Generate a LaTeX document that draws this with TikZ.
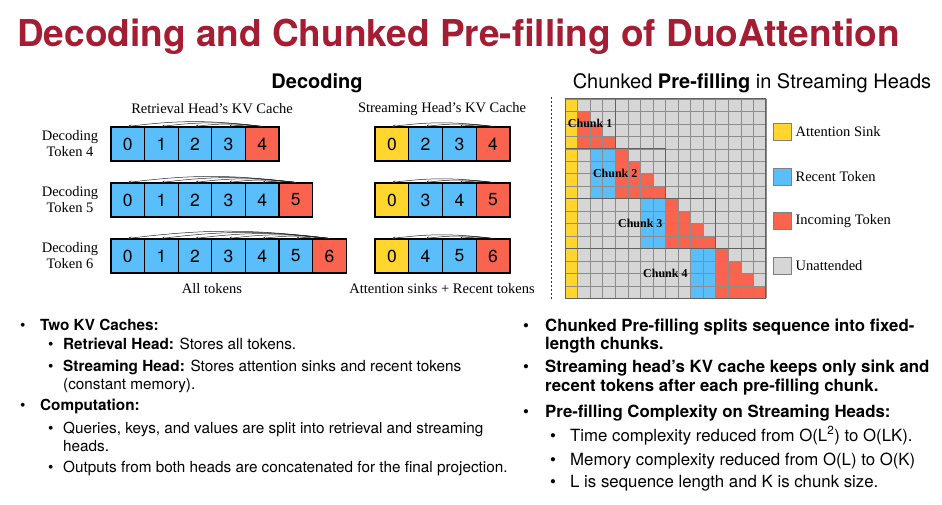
\documentclass[tikz,border=0pt]{standalone}
\usepackage{fontspec}
\setmainfont{Liberation Serif}
\setsansfont{TeX Gyre Heros}
\usetikzlibrary{arrows.meta,positioning}
\definecolor{duoRed}{RGB}{165,29,51}
\definecolor{sinkY}{RGB}{255,213,46}
\definecolor{recentB}{RGB}{90,190,250}
\definecolor{incomR}{RGB}{250,99,77}
\definecolor{unattG}{RGB}{214,214,214}
\tikzset{
  tok/.style      = {draw=black, line width=1.1pt, minimum width=33.6pt,
                    minimum height=34pt, inner sep=0pt,
                    font=\sffamily\fontsize{17.5}{17.5}\selectfont},
  stok/.style     = {tok, minimum width=33.75pt},
  kvarc/.style    = {black!85, line width=0.5pt,
                    -{Stealth[length=3.5pt,width=3pt]}, bend right=7},
  serlbl/.style   = {font=\fontsize{14.5}{16}\selectfont, inner sep=0pt,
                    align=center},
  head/.style     = {font=\sffamily\fontsize{20}{20}\selectfont, inner sep=0pt},
  chunklbl/.style = {font=\bfseries\fontsize{12}{12}\selectfont, inner sep=0pt},
  gridln/.style   = {draw=black!45, line width=0.4pt},
  chunkbox/.style = {draw=black!62, line width=1pt},
  sepln/.style    = {draw=black!80, line width=0.6pt, dash pattern=on 2pt off 2pt},
  legbox/.style   = {draw=black!50, line width=0.8pt, minimum width=18pt,
                    minimum height=17pt, inner sep=0pt},
  leglbl/.style   = {font=\fontsize{14.5}{16}\selectfont, inner sep=0pt},
  bulA/.style     = {font=\sffamily\fontsize{15.3}{15.3}\selectfont, inner sep=0pt,
                    anchor=base west},
  bulB/.style     = {font=\sffamily\bfseries\fontsize{16.8}{16.8}\selectfont,
                    inner sep=0pt, anchor=base west},
  bulC/.style     = {font=\sffamily\fontsize{16.8}{16.8}\selectfont, inner sep=0pt,
                    anchor=base west},
}

\begin{document}
\begin{tikzpicture}[x=1pt, y=-1pt]
  \useasboundingbox (0,0) rectangle (942,505);
  \node[anchor=west, inner sep=0pt, text=duoRed,
        font=\sffamily\bfseries\fontsize{37}{37}\selectfont]
    (title) at (17,37) {Decoding and Chunked Pre-filling of DuoAttention};
  \node[head] (hdDec) at (317,83) {\textbf{Decoding}};
  \node[head] (hdPre) at (752,83) {Chunked \textbf{Pre-filling} in Streaming Heads};

  % retrieval head keeps every token
  \node[serlbl] (retLbl) at (212,109) {Retrieval Head's KV Cache};
  \foreach \r/\y in {4/144,5/200,6/256} {
    \pgfmathtruncatemacro{\prev}{\r-1}
    \node[serlbl] (D\r) at (70,\y) {Decoding\\Token \r};
    \foreach \i in {0,...,\prev}
      \node[tok, fill=recentB] (R\r c\i) at ({127.8+33.6*\i},\y) {\i};
    \node[tok, fill=incomR] (R\r c\r) at ({127.8+33.6*\r},\y) {\r};
    \foreach \i in {0,...,\prev}
      \draw[kvarc] (R\r c\r.north) to (R\r c\i.north);
  }
  \node[serlbl] (allLbl) at (212,289) {All tokens};

  % streaming head keeps sink + recent tokens
  \node[serlbl] (strLbl) at (442,109) {Streaming Head's KV Cache};
  \foreach \r/\y/\a/\b in {4/144/2/3,5/200/3/4,6/256/4/5} {
    \node[stok, fill=sinkY]   (S\r c0) at (391.9,\y) {0};
    \node[stok, fill=recentB] (S\r c1) at (425.6,\y) {\a};
    \node[stok, fill=recentB] (S\r c2) at (459.4,\y) {\b};
    \node[stok, fill=incomR]  (S\r c3) at (493.1,\y) {\r};
    \foreach \i in {0,1,2}
      \draw[kvarc] (S\r c3.north) to (S\r c\i.north);
  }
  \node[serlbl] (sinkLbl) at (442,289) {Attention sinks + Recent tokens};

  \coordinate (sepTop) at (551,97);
  \coordinate (sepBot) at (551,300);
  \draw[sepln] (sepTop) -- (sepBot);

  % chunked pre-filling grid
  \begin{scope}[shift={(565,99)}, x=12.55pt, y=-12.45pt]
    \fill[unattG] (0,0) rectangle (16,16);
    \fill[sinkY] (0,0) rectangle (1,16);
    \foreach \k in {1,2,3}
      \fill[recentB] (4*\k-2,4*\k) rectangle (4*\k,4*\k+4);
    \foreach \k in {0,...,3}
      \foreach \r in {0,...,3} {
        \pgfmathtruncatemacro{\row}{4*\k+\r}
        \pgfmathtruncatemacro{\cA}{max(4*\k,1)}
        \pgfmathtruncatemacro{\cB}{4*\k+\r+1}
        \ifnum\cB>\cA \fill[incomR] (\cA,\row) rectangle (\cB,\row+1); \fi
      }
    \foreach \i in {0,...,16} {
      \draw[gridln] (\i,0) -- (\i,16);
      \draw[gridln] (0,\i) -- (16,\i);
    }
    \foreach \k [count=\n] in {0,...,3} {
      \draw[chunkbox] (0,4*\k) rectangle (4*\k+4,4*\k+4);
      \node[chunklbl] (chunk\n) at (2+2*\k,2+4*\k) {Chunk \n};
    }
    \draw[chunkbox] (0,0) rectangle (16,16);
  \end{scope}

  % legend
  \foreach \c/\t/\y [count=\n] in {sinkY/Attention Sink/132,
      recentB/Recent Token/176.5, incomR/Incoming Token/221,
      unattG/Unattended/266} {
    \node[legbox, fill=\c] (leg\n) at (782,\y) {};
    \node[leglbl, right=4pt of leg\n] (legT\n) {\t};
  }

  % notes, left
  \foreach \x/\y [count=\n] in {20/330,48/349,48/371,20/410,48/433,48/472}
    \node[bulA] (lb\n) at (\x,\y) {\textbullet};
  \foreach \x/\y/\t [count=\n] in {
      40/330/{\textbf{Two KV Caches:}},
      63/349/{\textbf{Retrieval Head:} Stores all tokens.},
      63/371/{\textbf{Streaming Head:} Stores attention sinks and recent tokens},
      63/389/{(constant memory).},
      40/410/{\textbf{Computation:}},
      63/433/{Queries, keys, and values are split into retrieval and streaming},
      63/451/{heads.},
      63/472/{Outputs from both heads are concatenated for the final projection.}}
    \node[bulA] (lt\n) at (\x,\y) {\t};

  % notes, right
  \foreach \x/\y [count=\n] in {523/331,523/372,523/417,550/441,550/465,550/487}
    \node[bulC] (rb\n) at (\x,\y) {\textbullet};
  \foreach \y/\t [count=\n] in {
      331/{Chunked Pre-filling splits sequence into fixed-},
      349/{length chunks.},
      372/{Streaming head's KV cache keeps only sink and},
      391/{recent tokens after each pre-filling chunk.},
      417/{Pre-filling Complexity on Streaming Heads:}}
    \node[bulB] (rt\n) at (545,\y) {\t};
  \foreach \y/\t [count=\n] in {
      441/{Time complexity reduced from O(L\textsuperscript{2}) to O(LK).},
      465/{Memory complexity reduced from O(L) to O(K)},
      487/{L is sequence length and K is chunk size.}}
    \node[bulC] (rs\n) at (570,\y) {\t};
\end{tikzpicture}
\end{document}
